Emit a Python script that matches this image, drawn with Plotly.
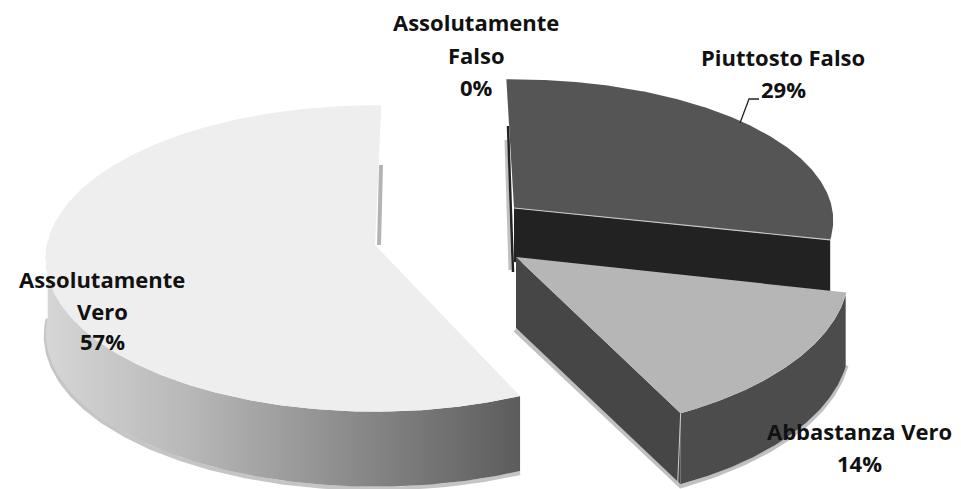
import numpy as np
import plotly.graph_objects as go

# ---- data ----
categories = ["Assolutamente Falso", "Piuttosto Falso", "Abbastanza Vero", "Assolutamente Vero"]
values = [0, 29, 14, 57]
label_lines = [["Assolutamente", "Falso"], ["Piuttosto Falso"], ["Abbastanza Vero"], ["Assolutamente", "Vero"]]

# ---- style / geometry ----
W, H = 961, 489
PERSP = 0.088
geom = {
    "Piuttosto Falso": dict(cx=514, cy=208, rx=318, ry=140, depth=54, rot=-1.5),
    "Abbastanza Vero": dict(cx=516, cy=257, rx=332, ry=162, depth=71, rot=-2.0),
    "Assolutamente Vero": dict(cx=375, cy=245, rx=328, ry=152, depth=75, rot=1.2),
}
label_pos = {
    "Assolutamente Falso": (476, [22, 55, 87]),
    "Piuttosto Falso": (783, [57, 89]),
    "Abbastanza Vero": (859, [431, 463]),
    "Assolutamente Vero": (102, [279, 311, 341]),
}
FONT = dict(family="Open Sans", size=22, color="#111111")

cum = np.concatenate([[0], np.cumsum(values)]) / sum(values) * 360
sweep = {c: (cum[i], cum[i + 1]) for i, c in enumerate(categories)}


def proj(g, deg, dz=0.0):
    a = np.radians(np.asarray(deg, dtype=float) + g["rot"])
    u, v = np.sin(a), -np.cos(a)
    s = 1 / (1 - PERSP * v)
    return g["cx"] + g["rx"] * u * s, g["cy"] + g["ry"] * v * s + dz


def arc(a0, a1):
    return np.linspace(a0, a1, max(2, int(abs(a1 - a0)) * 2))


def poly(xs, ys, fill=None, grad=None):
    kw = dict(x=xs, y=ys, mode="lines", fill="toself", line=dict(width=0), hoverinfo="skip", showlegend=False)
    if grad:
        kw["fillgradient"] = dict(type="horizontal", colorscale=grad)
    else:
        kw["fillcolor"] = fill
    return go.Scatter(**kw)


def line(xs, ys, color, width):
    return go.Scatter(x=xs, y=ys, mode="lines", line=dict(color=color, width=width),
                      hoverinfo="skip", showlegend=False)


def top(g, a0, a1):
    x, y = proj(g, arc(a0, a1))
    return np.r_[g["cx"], x, g["cx"]], np.r_[g["cy"], y, g["cy"]]


def outer_wall(g, a0, a1):
    t = arc(a0, a1)
    x1, y1 = proj(g, t)
    x2, y2 = proj(g, t, g["depth"])
    return np.r_[x1, x2[::-1], x1[0]], np.r_[y1, y2[::-1], y1[0]]


def cut_wall(g, a):
    x, y = proj(g, [a])
    d = g["depth"]
    return ([g["cx"], x[0], x[0], g["cx"], g["cx"]],
            [g["cy"], y[0], y[0] + d, g["cy"] + d, g["cy"]])


fig = go.Figure()

# --- Assolutamente Vero ---
g = geom["Assolutamente Vero"]
a0, a1 = sweep["Assolutamente Vero"]
t = arc(a0, 270)
sx, sy = proj(g, t, g["depth"] + 2)
fig.add_trace(line(sx, sy, "rgba(150,150,150,0.55)", 4))
fig.add_trace(line([g["cx"] + 6, g["cx"] + 4], [g["cy"] - 80, g["cy"]], "#b4b4b4", 4))
x, y = outer_wall(g, a0, 270)
fig.add_trace(poly(x, y, grad=[[0, "#d6d6d6"], [0.3, "#b8b8b8"], [0.65, "#8a8a8a"], [1, "#5c5c5c"]]))
x, y = top(g, a0, a1)
fig.add_trace(poly(x, y, "#eeeeee"))

# --- Assolutamente Falso (0 %): only its thin edge shows ---
gp = geom["Piuttosto Falso"]
fig.add_trace(line([gp["cx"] - 8, gp["cx"] - 4], [gp["cy"] - 68, gp["cy"] + 62], "rgba(150,150,150,0.6)", 3))
fig.add_trace(line([gp["cx"] - 6, gp["cx"] - 1], [gp["cy"] - 82, gp["cy"] + 64], "#222222", 2.5))

# --- Piuttosto Falso ---
g = gp
a0, a1 = sweep["Piuttosto Falso"]
x, y = cut_wall(g, a1)
fig.add_trace(poly(x, y, "#222222"))
x, y = top(g, a0, a1)
fig.add_trace(poly(x, y, "#555555"))
ex, ey = proj(g, [a1])
fig.add_trace(line([g["cx"], ex[0]], [g["cy"], ey[0]], "#c9c9c9", 1.2))

# --- Abbastanza Vero ---
g = geom["Abbastanza Vero"]
a0, a1 = sweep["Abbastanza Vero"]
sx, sy = proj(g, arc(a0, a1), g["depth"] + 2)
ax, ay = proj(g, [a1], g["depth"] + 2)
fig.add_trace(line(np.r_[g["cx"] - 1, ax[0], sx[::-1]], np.r_[g["cy"] + g["depth"] + 2, ay[0], sy[::-1]],
                   "rgba(150,150,150,0.6)", 4))
x, y = outer_wall(g, a0 + 1, a1)
fig.add_trace(poly(x, y, "#4c4c4c"))
x, y = cut_wall(g, a1)
fig.add_trace(poly(x, y, "#464646"))
x, y = top(g, a0, a1)
fig.add_trace(poly(x, y, "#b6b6b6"))
ex, ey = proj(g, [a1])
fig.add_trace(line([ex[0], ex[0] - 3], [ey[0], ey[0] + g["depth"]], "#cfcfcf", 1))

# --- leader for 29 % ---
fig.add_trace(line([740, 749, 759], [123, 99, 99], "#222222", 1.3))

# --- labels ---
anns = []
for c, v, lines in zip(categories, values, label_lines):
    lx, ys = label_pos[c]
    for txt, yy in zip(lines + [f"{v}%"], ys):
        anns.append(dict(x=lx, y=yy, text=f"<b>{txt}</b>", showarrow=False, xanchor="center",
                         yanchor="middle", font=FONT, xref="x", yref="y"))

fig.update_layout(
    width=W, height=H, margin=dict(l=0, r=0, t=0, b=0),
    paper_bgcolor="white", plot_bgcolor="white", showlegend=False,
    xaxis=dict(range=[0, W], visible=False, fixedrange=True),
    yaxis=dict(range=[H, 0], visible=False, fixedrange=True),
    annotations=anns,
)
fig.write_html("out.html", config=dict(displayModeBar=False),
               post_script="document.body.style.margin='0';document.documentElement.style.overflow='hidden';")
